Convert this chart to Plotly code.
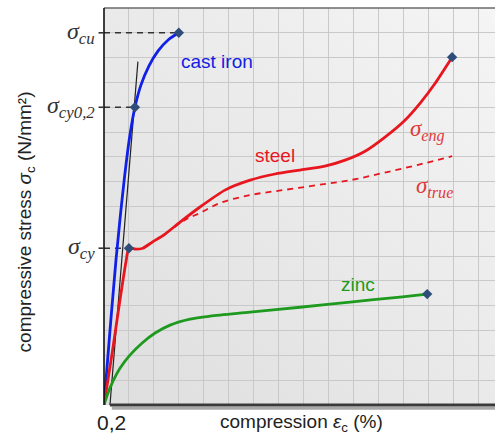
import base64
import plotly.graph_objects as go

# ---- data (grid units: 1 unit = one grid cell) ----
cast_iron_x = [0, 0.24, 0.48, 0.68, 0.88, 1.04, 1.24, 1.48, 1.80, 2.17, 2.57, 3.0]
cast_iron_y = [0, 3.0, 5.84, 7.86, 9.67, 10.88, 12.0, 12.89, 13.66, 14.27, 14.71, 15.0]

steel_eng_x = [0, 0.32, 0.64, 0.88, 1.00, 1.28, 1.56, 1.93, 2.45, 3.05, 3.85, 4.85,
               5.86, 6.86, 7.86, 8.86, 9.67, 10.47, 11.27, 12.07, 12.68, 13.28, 13.96]
steel_eng_y = [0, 2.05, 4.23, 5.76, 6.32, 6.28, 6.32, 6.56, 6.89, 7.37, 7.98, 8.66,
               9.06, 9.31, 9.47, 9.63, 9.87, 10.23, 10.80, 11.48, 12.17, 12.97, 14.02]

steel_true_x = [2.45, 3.25, 3.85, 4.65, 5.86, 7.18, 8.54, 9.87, 11.19, 12.56, 13.96]
steel_true_y = [6.89, 7.46, 7.74, 8.14, 8.46, 8.66, 8.86, 9.06, 9.35, 9.67, 10.03]

zinc_x = [0, 0.16, 0.36, 0.64, 1.04, 1.52, 2.05, 2.65, 3.45, 4.25, 5.86, 7.86, 9.87, 11.87, 12.96]
zinc_y = [0, 0.48, 0.96, 1.48, 2.01, 2.49, 2.90, 3.22, 3.46, 3.58, 3.74, 3.94, 4.15, 4.35, 4.47]

offset_x = [0.24, 1.36]
offset_y = [0, 13.84]

marker_x = [3.0, 1.24, 1.0, 13.96, 12.96]
marker_y = [15.0, 12.0, 6.32, 14.02, 4.47]

level_names = ["σ<sub>cu</sub>", "σ<sub>cy0,2</sub>", "σ<sub>cy</sub>"]
level_x = [3.0, 1.24, 1.0]
level_y = [15.0, 12.0, 6.32]

x_tick_label = "0,2"
x_tick_value = 0.24

X_MAX = 15.68
Y_MAX = 16

BLUE = "#1020e6"
RED = "#e8161e"
GREEN = "#1e9a1e"
MARK = "#2e4d78"

fig = go.Figure()

# reference dashed lines
for lx, ly in zip(level_x, level_y):
    fig.add_trace(go.Scatter(x=[0, lx], y=[ly, ly], mode="lines",
                             line=dict(color="#333333", width=1.6, dash="6px,5px"),
                             hoverinfo="skip", showlegend=False))

fig.add_trace(go.Scatter(x=offset_x, y=offset_y, mode="lines",
                         line=dict(color="#222222", width=1.2), showlegend=False))
fig.add_trace(go.Scatter(x=cast_iron_x, y=cast_iron_y, mode="lines",
                         line=dict(color=BLUE, width=2.8, shape="spline", smoothing=1.0),
                         showlegend=False))
fig.add_trace(go.Scatter(x=steel_true_x, y=steel_true_y, mode="lines",
                         line=dict(color=RED, width=1.8, dash="6px,5px", shape="spline"),
                         showlegend=False))
fig.add_trace(go.Scatter(x=steel_eng_x, y=steel_eng_y, mode="lines",
                         line=dict(color=RED, width=2.8, shape="spline", smoothing=0.6),
                         showlegend=False))
fig.add_trace(go.Scatter(x=zinc_x, y=zinc_y, mode="lines",
                         line=dict(color=GREEN, width=2.8, shape="spline", smoothing=0.8),
                         showlegend=False))
fig.add_trace(go.Scatter(x=marker_x, y=marker_y, mode="markers",
                         marker=dict(color=MARK, symbol="diamond", size=8),
                         cliponaxis=False, showlegend=False))

# gradient background
svg = ('<svg xmlns="http://www.w3.org/2000/svg" width="100" height="100" preserveAspectRatio="none">'
       '<defs><linearGradient id="g" x1="0" y1="1" x2="1" y2="0">'
       '<stop offset="0" stop-color="#dedede"/><stop offset="1" stop-color="#f5f5f5"/>'
       '</linearGradient></defs><rect width="100" height="100" fill="url(#g)"/></svg>')
src = "data:image/svg+xml;base64," + base64.b64encode(svg.encode()).decode()
fig.add_layout_image(dict(source=src, xref="paper", yref="paper", x=0, y=1,
                          sizex=1, sizey=1, sizing="stretch", layer="below",
                          xanchor="left", yanchor="top"))

shapes = [
    # top border
    dict(type="line", xref="paper", yref="paper", x0=0, x1=1, y0=1, y1=1,
         line=dict(color="#6a6a6a", width=1.6)),
    # bottom shadow
    dict(type="line", xref="paper", yref="paper", x0=0.02, x1=1, y0=-0.008, y1=-0.008,
         line=dict(color="#a8a8a8", width=3)),
    # bottom axis
    dict(type="line", xref="paper", yref="paper", x0=0.015, x1=1, y0=0, y1=0,
         line=dict(color="#3a3a3a", width=3)),
    # left axis
    dict(type="line", xref="paper", yref="paper", x0=0, x1=0, y0=0, y1=1,
         line=dict(color="#111111", width=1.6)),
]
for ly in level_y:
    shapes.append(dict(type="line", xref="paper", yref="y", x0=-0.014, x1=0, y0=ly, y1=ly,
                       line=dict(color="#333333", width=1.6)))

annotations = []
for name, ly in zip(level_names, level_y):
    annotations.append(dict(text="<i>" + name + "</i>", xref="paper", yref="y", x=-0.018, y=ly,
                            xanchor="right", yanchor="middle", showarrow=False,
                            font=dict(family="Liberation Serif", size=24, color="#333333")))

labels = [
    ("cast iron", 4.53, 13.86, BLUE, "Liberation Sans", 19),
    ("steel", 6.86, 10.07, RED, "Liberation Sans", 19),
    ("zinc", 10.19, 4.86, GREEN, "Liberation Sans", 19),
    ("<i>σ<sub>eng</sub></i>", 12.96, 11.08, "#e03a3a", "Liberation Serif", 23),
    ("<i>σ<sub>true</sub></i>", 13.24, 8.78, "#e03a3a", "Liberation Serif", 23),
]
for t, lx, ly, c, fam, sz in labels:
    annotations.append(dict(text=t, x=lx, y=ly, xref="x", yref="y", showarrow=False,
                            xanchor="center", yanchor="middle",
                            font=dict(family=fam, size=sz, color=c)))

annotations.append(dict(text=x_tick_label, x=x_tick_value, xref="x", y=-0.045, yref="paper",
                        xshift=2, showarrow=False, xanchor="center", yanchor="middle",
                        font=dict(family="Liberation Sans", size=21, color="#222222")))
annotations.append(dict(text="compression <i>ε</i><sub>c</sub> (%)", x=0.506, y=-0.045,
                        xref="paper", yref="paper", showarrow=False,
                        xanchor="center", yanchor="middle",
                        font=dict(family="Liberation Sans", size=19, color="#222222")))
annotations.append(dict(text="compressive stress <i>σ</i><sub>c</sub> (N/mm²)", x=-0.2, y=0.462,
                        xref="paper", yref="paper", showarrow=False, textangle=-90,
                        xanchor="center", yanchor="middle",
                        font=dict(family="Liberation Sans", size=19, color="#222222")))

fig.update_layout(
    width=495, height=437,
    margin=dict(l=104, r=0, t=8, b=32),
    paper_bgcolor="white", plot_bgcolor="#ebebeb",
    shapes=shapes, annotations=annotations,
    xaxis=dict(range=[0, X_MAX], dtick=1, tick0=0, showticklabels=False, ticks="",
               showgrid=True, gridcolor="#c9c9c9", gridwidth=1, zeroline=False,
               showline=False, fixedrange=True),
    yaxis=dict(range=[0, Y_MAX], dtick=1, tick0=0, showticklabels=False, ticks="",
               showgrid=True, gridcolor="#c9c9c9", gridwidth=1, zeroline=False,
               showline=False, fixedrange=True),
    showlegend=False,
)

fig.write_html("out.html", config={"displayModeBar": False})
